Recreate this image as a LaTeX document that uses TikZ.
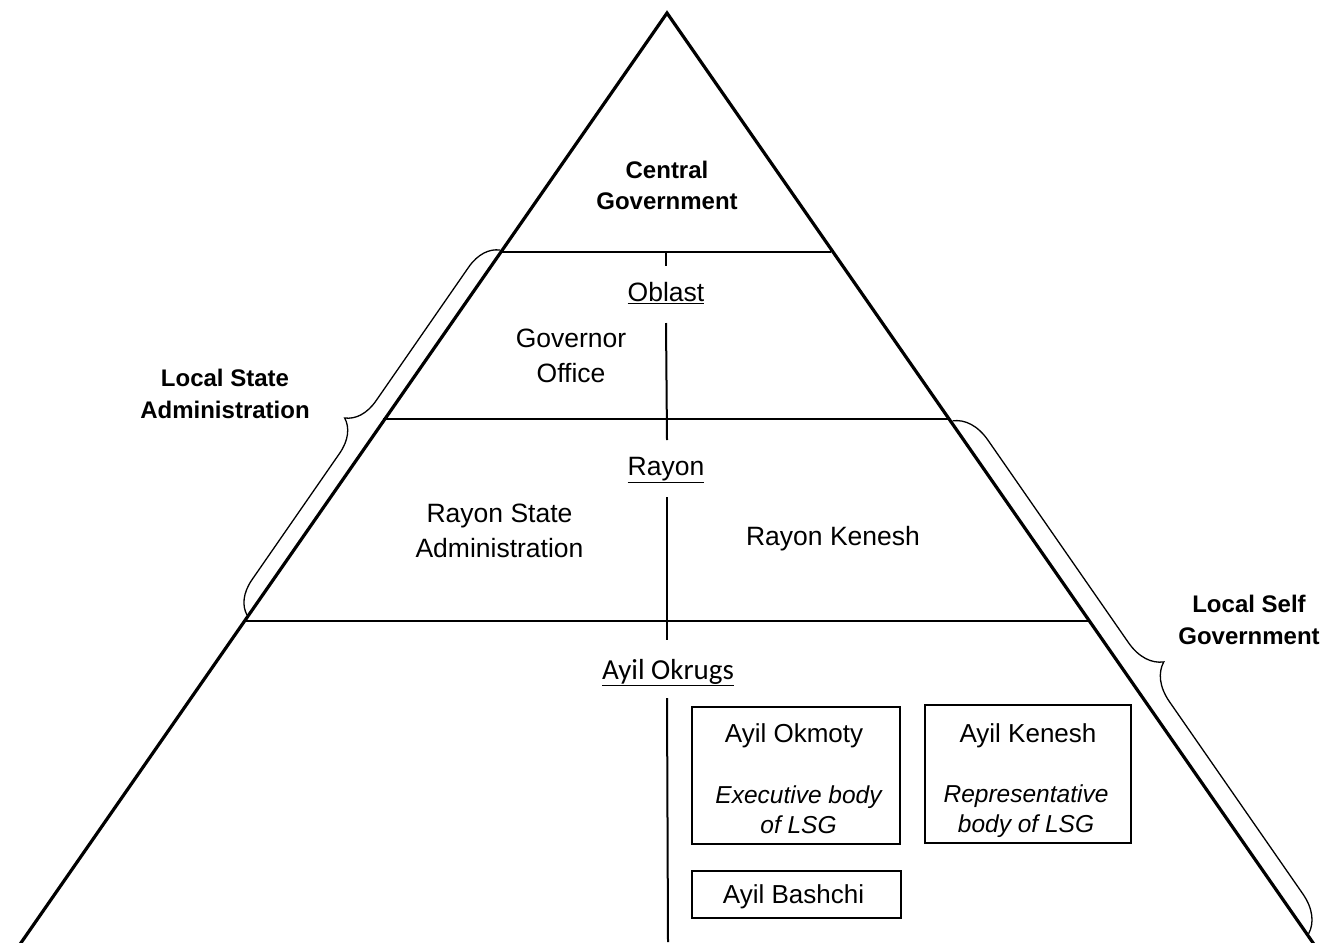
\documentclass[tikz,border=0pt]{standalone}
\usepackage{fontspec}
\setmainfont{Liberation Sans}
\newfontfamily\calibri{Carlito}
\usetikzlibrary{decorations.pathreplacing,positioning}

\tikzset{
  tier/.style={line width=2pt},
  stem/.style={line width=2pt},
  lbl/.style={font=\fontsize{26.5}{35}\selectfont, align=center, inner sep=0pt},
  headlbl/.style={font=\fontsize{24}{31.5}\selectfont\bfseries, align=center, inner sep=0pt},
  bodybox/.style={draw, line width=2pt, inner sep=0pt},
  boxtitle/.style={font=\fontsize{26}{30}\selectfont, inner sep=0pt, anchor=base},
  boxnote/.style={font=\fontsize{24.5}{30}\selectfont\itshape, align=center, inner sep=0pt},
  sidebrace/.style={decorate, line width=1.3pt},
}

\begin{document}
\begin{tikzpicture}[x=1pt,y=-1pt]
  \useasboundingbox (0,0) rectangle (1329,942);

  % Pyramid
  \coordinate (apex) at (667,13);
  \coordinate (baseL) at (16,950);
  \coordinate (baseR) at (1318,950);
  \draw[line width=3.2pt, line join=miter] (baseL) -- (apex) -- (baseR);

  % Tiers
  \draw[tier] (500,252) -- (831,252);
  \draw[tier] (383,419) -- (949,419);
  \draw[tier] (245,621) -- (1089,621);

  % Middle stem
  \draw[stem] (666,252) -- (666,266);
  \draw[stem] (666,323) -- (667,440);
  \draw[stem] (667,497) -- (667,640);
  \draw[stem] (667,698) -- (668,942);

  % Central Government
  \node[headlbl] (central) at (667,185.5) {Central\\Government};

  % Oblast
  \node[lbl, anchor=base] (oblast) at (666,301.5) {\underline{Oblast}};
  \node[lbl] (governor) at (571,356) {Governor\\Office};

  % Rayon
  \node[lbl, anchor=base] (rayon) at (666,475) {\underline{Rayon}};
  \node[lbl] (rsa) at (499.5,531) {Rayon State\\Administration};
  \node[lbl, anchor=base] (rkenesh) at (833,545) {Rayon Kenesh};

  % Ayil Okrugs
  \node[lbl, font=\fontsize{29}{34}\calibri, anchor=base] (okrugs) at (668,679) {\underline{Ayil Okrugs}};

  \node[bodybox, minimum width=208pt, minimum height=137pt] (okmoty) at (796,775.5) {};
  \node[boxtitle] (okmotyT) at (794,742) {Ayil Okmoty};
  \node[boxnote] (okmotyN) at (798.5,810) {Executive body\\of LSG};

  \node[bodybox, minimum width=206pt, minimum height=138pt] (kenesh) at (1028,774) {};
  \node[boxtitle] (keneshT) at (1028,742) {Ayil Kenesh};
  \node[boxnote] (keneshN) at (1026,811) {Representative\\body of LSG};

  \node[bodybox, minimum width=209pt, minimum height=47pt] (bashchi) at (796.5,894.5) {};
  \node[boxtitle] (bashchiT) at (793.5,903) {Ayil Bashchi};

  % Braces
  \draw[sidebrace, decoration={brace, amplitude=32pt, aspect=0.49}]
    (247,615) -- (500,250);
  \node[headlbl] (lsa) at (225,394) {Local State\\Administration};

  \draw[sidebrace, decoration={brace, amplitude=36pt, raise=2pt, aspect=0.51}]
    (951,422) -- (1307,935);
  \node[headlbl] (lsg) at (1249,620) {Local Self\\Government};
\end{tikzpicture}
\end{document}
